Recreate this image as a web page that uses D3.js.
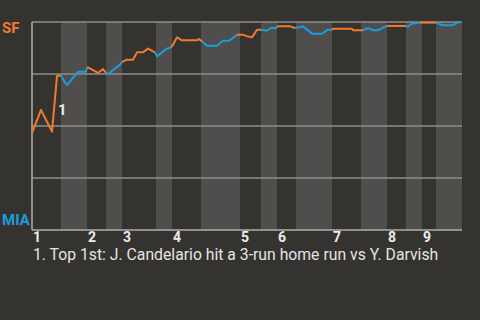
<!DOCTYPE html>
<html lang="en">
<head>
    <meta charset="UTF-8">
    <title>Win probability</title>
    <script src="https://d3js.org/d3.v7.min.js"></script>
    <style>
        body { margin: 0; background: #353330; }
        text { font-family: Roboto, "Noto Sans", sans-serif; }
    </style>
</head>
<body>
    <div id="chart"></div>
    <script>
        // Length of every half inning, in game-progress units (top 1st, bottom 1st, ...)
        const halfInnings = [29, 26, 19, 16, 34, 16, 29, 39, 21, 16, 19, 36, 29, 26, 19, 16, 14, 26];
        const inningLabels = ["1", "2", "3", "4", "5", "6", "7", "8", "9"];

        // SF win probability (%) along the game
        const progress = [0, 9, 20, 25, 28, 29, 35, 46, 54, 55, 56, 66, 71, 74, 76, 88, 90, 95, 101, 105,
            111, 116, 123, 125, 130, 135, 139, 141, 145, 150, 165, 167, 170, 175, 185, 191, 197, 205, 211, 215,
            220, 225, 229, 235, 239, 244, 245, 258, 263, 268, 271, 280, 290, 296, 300, 301, 320, 321, 331, 335,
            338, 341, 346, 351, 355, 374, 376, 380, 388, 404, 408, 411, 421, 425, 430];
        const sfWinPct = [46.6, 57.7, 47.3, 74.0, 74.3, 74.0, 69.7, 76.1, 76.1, 78.1, 78.2, 75.5, 77.4, 75.5, 75.0, 79.5, 80.8, 81.9, 81.9, 85.4,
            85.4, 87.2, 85.4, 83.5, 85.4, 87.2, 87.8, 89.1, 92.6, 91.2, 91.2, 91.8, 90.7, 88.6, 88.6, 91.0, 91.0, 93.9, 93.9, 93.1,
            92.6, 96.3, 96.3, 95.8, 97.1, 97.1, 97.9, 97.9, 97.1, 97.6, 97.9, 94.4, 94.4, 96.3, 96.3, 96.8, 96.8, 96.0, 96.0, 97.0,
            96.8, 96.0, 96.0, 97.3, 98.1, 98.1, 97.8, 99.2, 99.7, 99.7, 98.9, 98.4, 98.4, 99.7, 100];

        const teams = ["SF", "MIA"];
        const teamColors = ["#f07a2e", "#1a9ddb"];

        // Annotated plays
        const notePoints = [3];
        const notes = ["1. Top 1st: J. Candelario hit a 3-run home run vs Y. Darvish"];

        const width = 480, height = 320;
        const margin = { top: 22, right: 18, bottom: 90, left: 32 };

        const svg = d3.select("#chart").append("svg")
            .attr("width", width)
            .attr("height", height);

        const starts = d3.cumsum([0].concat(halfInnings));
        const total = starts[starts.length - 1];

        const x = d3.scaleLinear().domain([0, total]).range([margin.left, width - margin.right]);
        const y = d3.scaleLinear().domain([0, 100]).range([height - margin.bottom, margin.top]);

        // bands: bottom halves are lighter
        svg.append("g").selectAll("rect")
            .data(halfInnings.map((d, i) => ({ i, s: starts[i], e: starts[i + 1] })).filter(d => d.i % 2 === 1))
            .join("rect")
            .attr("x", d => x(d.s))
            .attr("width", d => x(d.e) - x(d.s))
            .attr("y", y(100))
            .attr("height", y(0) - y(100))
            .attr("fill", "#4f4e4c");

        // grid
        svg.append("g").selectAll("line")
            .data([25, 50, 75, 100])
            .join("line")
            .attr("x1", x(0)).attr("x2", x(total))
            .attr("y1", d => y(d)).attr("y2", d => y(d))
            .attr("stroke", "#8f8e8c")
            .attr("stroke-width", 1.5);

        // axes
        svg.append("line")
            .attr("x1", x(0)).attr("x2", x(0))
            .attr("y1", y(0)).attr("y2", y(100))
            .attr("stroke", "#b0afad").attr("stroke-width", 1.5);
        svg.append("line")
            .attr("x1", x(0)).attr("x2", x(total))
            .attr("y1", y(0)).attr("y2", y(0))
            .attr("stroke", "#b0afad").attr("stroke-width", 1.5);

        // inning labels at the start of each top half
        svg.append("g").selectAll("text")
            .data(inningLabels)
            .join("text")
            .attr("x", (d, i) => x(starts[i * 2]) + 1)
            .attr("y", y(0) + 12)
            .attr("fill", "#ececec")
            .attr("font-size", 14)
            .attr("font-weight", "bold")
            .text(d => d);

        // team labels
        svg.append("text")
            .attr("x", 2).attr("y", y(100) + 11)
            .attr("fill", teamColors[0])
            .attr("font-size", 15).attr("font-weight", "bold")
            .text(teams[0]);
        svg.append("text")
            .attr("x", 2).attr("y", y(0) - 5)
            .attr("fill", teamColors[1])
            .attr("font-size", 15).attr("font-weight", "bold")
            .text(teams[1]);

        // win probability line, coloured by half inning
        const pts = progress.map((t, i) => ({ t, v: sfWinPct[i] }));
        const line = d3.line().x(d => x(d.t)).y(d => y(d.v));
        const segs = halfInnings.map(() => []);
        for (let i = 1; i < pts.length; i++) {
            const mid = (pts[i - 1].t + pts[i].t) / 2;
            const h = d3.bisectRight(starts, mid) - 1;
            const seg = segs[Math.min(h, halfInnings.length - 1)];
            if (!seg.length) seg.push(pts[i - 1]);
            seg.push(pts[i]);
        }
        svg.append("g").selectAll("path")
            .data(segs.map((s, i) => ({ s, i })).filter(d => d.s.length))
            .join("path")
            .attr("d", d => line(d.s))
            .attr("fill", "none")
            .attr("stroke", d => teamColors[d.i % 2])
            .attr("stroke-width", 2)
            .attr("stroke-linejoin", "round");

        // annotation markers
        notePoints.forEach((p, k) => {
            const a = pts[p - 1], b = pts[p];
            svg.append("text")
                .attr("x", x(b.t) + 1)
                .attr("y", y((a.v + b.v) / 2) + 11)
                .attr("fill", "#e8e8e8")
                .attr("font-size", 15).attr("font-weight", "bold")
                .text(k + 1);
        });

        svg.append("g").selectAll("text")
            .data(notes)
            .join("text")
            .attr("x", x(0) + 1)
            .attr("y", y(0) + 30)
            .attr("fill", "#e4e4e4")
            .attr("font-size", 15.75)
            .text(d => d);
    </script>
</body>
</html>
